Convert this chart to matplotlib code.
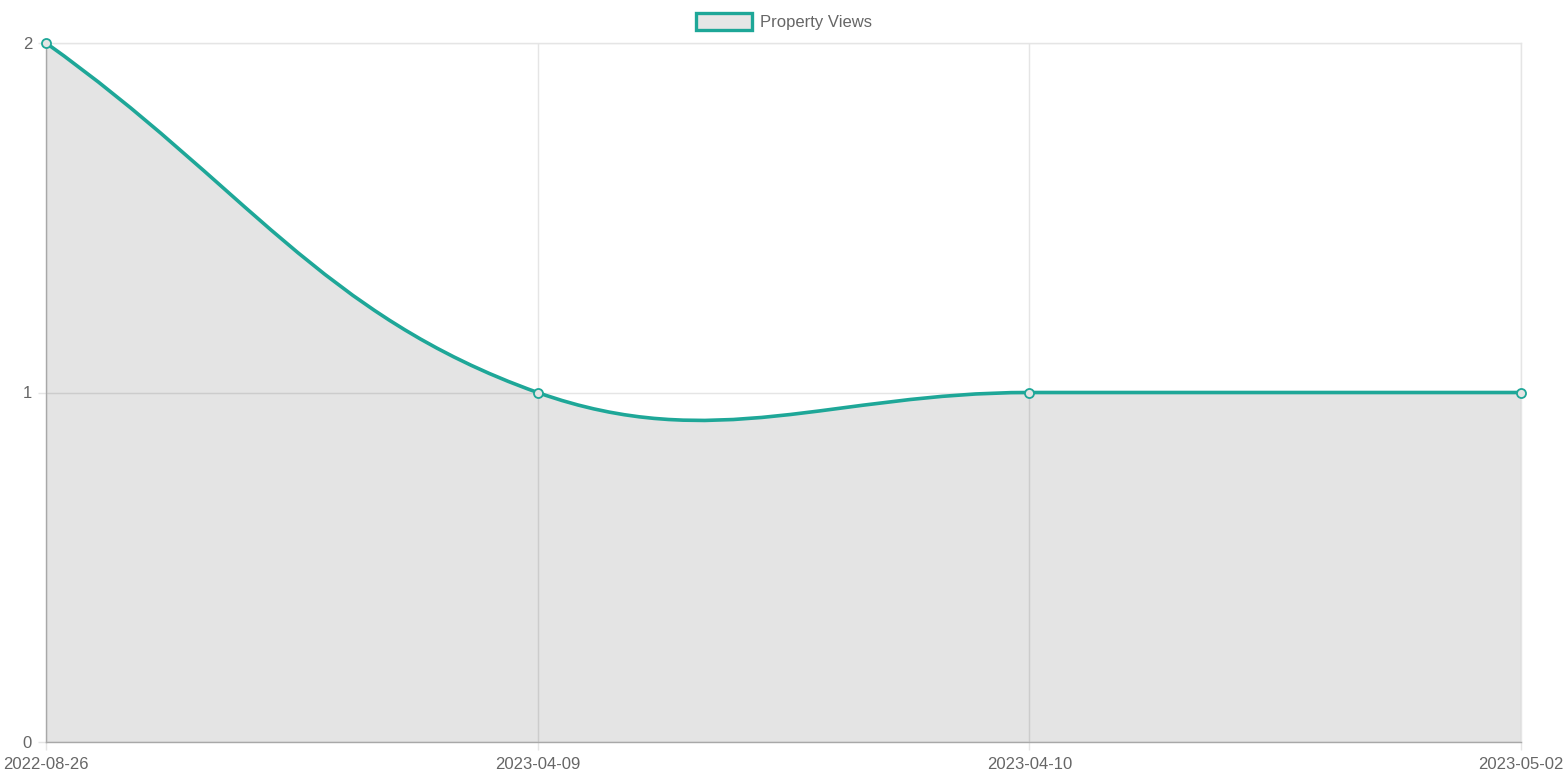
import matplotlib
matplotlib.use("Agg")
import matplotlib.pyplot as plt
import numpy as np
from matplotlib.path import Path
from matplotlib.patches import PathPatch, Rectangle

categories = ["2022-08-26", "2023-04-09", "2023-04-10", "2023-05-02"]
views = [2, 1, 1, 1]
y_ticks = [0, 1, 2]
series_label = "Property Views"

LINE = "#1ea798"
TEXT = "#666666"
GRID = "#e5e5e5"
AXIS = "#a8a8a8"
FS = 12

W, H = 1567, 783
fig = plt.figure(figsize=(W / 100, H / 100), dpi=100)
ax = fig.add_axes([46 / W, (H - 742) / H, (1521 - 46) / W, (742 - 43) / H])
x = np.arange(len(categories))
ax.set_xlim(x[0], x[-1])
ax.set_ylim(0, 2)

ax.set_xticks(x)
ax.set_xticklabels(categories)
ax.set_yticks(y_ticks)
ax.set_yticklabels([str(t) for t in y_ticks])
ax.grid(True, color=GRID, linewidth=1)
ax.set_axisbelow(True)
for s in ["top", "right"]:
    ax.spines[s].set_color(GRID)
    ax.spines[s].set_linewidth(1)
for s in ["left", "bottom"]:
    ax.spines[s].set_color(AXIS)
    ax.spines[s].set_linewidth(1)
ax.tick_params(axis="both", length=6, width=1, color=GRID, labelcolor=TEXT, labelsize=FS)
ax.tick_params(axis="x", pad=5)
ax.tick_params(axis="y", pad=4)
for lbl in ax.get_xticklabels() + ax.get_yticklabels():
    lbl.set_family("Liberation Sans")

# Chart.js style bezier (tension 0.4) in display space
fig.canvas.draw()
trans = ax.transData
pts = trans.transform(np.column_stack([x, views]).astype(float))
t = 0.4
n = len(pts)
cprev = np.zeros_like(pts)
cnext = np.zeros_like(pts)
for i in range(n):
    p0 = pts[i - 1] if i > 0 else pts[i]
    p1 = pts[i]
    p2 = pts[i + 1] if i < n - 1 else pts[i]
    d01 = np.hypot(*(p1 - p0))
    d12 = np.hypot(*(p2 - p1))
    tot = d01 + d12
    s01 = d01 / tot if tot else 0
    s12 = d12 / tot if tot else 0
    cprev[i] = p1 - t * s01 * (p2 - p0)
    cnext[i] = p1 + t * s12 * (p2 - p0)
verts = [pts[0]]
codes = [Path.MOVETO]
for i in range(n - 1):
    verts += [cnext[i], cprev[i + 1], pts[i + 1]]
    codes += [Path.CURVE4] * 3
inv = trans.inverted()
dverts = inv.transform(np.array(verts))
curve = Path(dverts, codes)

fill_verts = list(dverts) + [[x[-1], 0], [x[0], 0], dverts[0]]
fill_codes = codes + [Path.LINETO, Path.LINETO, Path.CLOSEPOLY]
ax.add_patch(PathPatch(Path(fill_verts, fill_codes), facecolor="black", alpha=0.105,
                       edgecolor="none", zorder=2))
ax.add_patch(PathPatch(curve, facecolor="none", edgecolor=LINE, linewidth=2.6, zorder=3,
                       capstyle="round", joinstyle="round"))
ax.plot(x, views, linestyle="none", marker="o", markersize=6.5, markerfacecolor="#e4e4e4",
        markeredgecolor=LINE, markeredgewidth=1.3, zorder=4, clip_on=False)

# legend
fig.patches.append(Rectangle((696 / W, (H - 30) / H), 56 / W, 17 / H, transform=fig.transFigure,
                             facecolor="#e6e6e6", edgecolor=LINE, linewidth=2.4))
fig.text(760 / W, (H - 22) / H, series_label, color=TEXT, fontsize=FS,
         family="Liberation Sans", va="center", ha="left")

fig.savefig("out.png", dpi=100)
